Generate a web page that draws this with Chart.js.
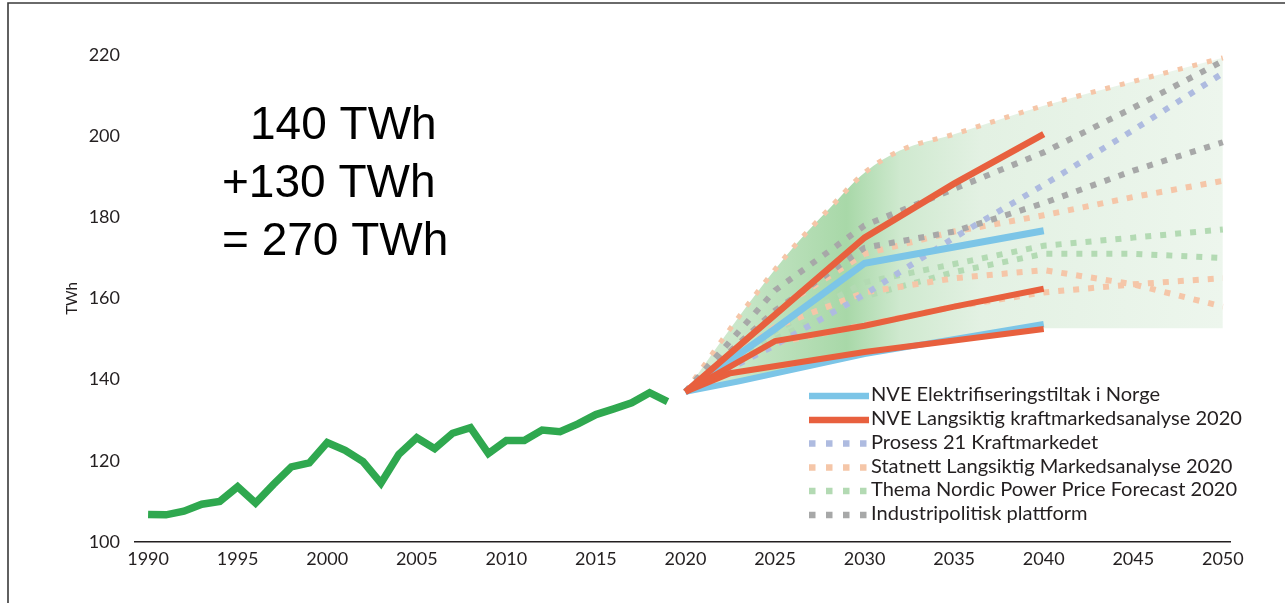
<!DOCTYPE html>
<html><head><meta charset="utf-8">
<script src="https://cdn.jsdelivr.net/npm/chart.js@4/dist/chart.umd.min.js"></script>
<style>html,body{margin:0;padding:0;background:#fff;overflow:hidden}#wrap{position:relative;width:1285px;height:603px}</style>
</head><body><div id="wrap"><canvas id="c" width="1285" height="603"></canvas></div>
<script>
// ---------- DATA ----------
const historyYears = [1990,1991,1992,1993,1994,1995,1996,1997,1998,1999,2000,2001,2002,2003,2004,2005,2006,2007,2008,2009,2010,2011,2012,2013,2014,2015,2016,2017,2018,2019];
const historyValues = [106.8,106.7,107.6,109.3,110,113.6,109.6,114.2,118.5,119.5,124.5,122.6,119.8,114.5,121.6,125.7,123,126.8,128.2,121.8,125,125,127.6,127.2,129.1,131.4,132.8,134.3,136.8,134.6];

const seriesNames = ["NVE Elektrifiseringstiltak i Norge","NVE Langsiktig kraftmarkedsanalyse 2020","Prosess 21 Kraftmarkedet","Statnett Langsiktig Markedsanalyse 2020","Thema Nordic Power Price Forecast 2020","Industripolitisk plattform"];

// NVE Elektrifiseringstiltak (blue)
const nveElHighYears = [2020,2025,2030,2040];
const nveElHighValues = [137,152.5,168.7,176.7];
const nveElLowYears = [2020,2023,2030,2040];
const nveElLowValues = [137,139.6,146.3,153.7];
// NVE Langsiktig (red)
const nveLaHighYears = [2020,2025,2030,2035,2040];
const nveLaHighValues = [137,156,175,188.3,200.5];
const nveLaMidYears = [2020,2025,2030,2035,2040];
const nveLaMidValues = [137,149.5,153.3,158,162.4];
const nveLaLowYears = [2020,2022.5,2030,2040];
const nveLaLowValues = [137,141.6,146.8,152.5];
// Prosess 21
const prosessYears = [2020,2025,2030,2035,2040,2045,2050];
const prosessValues = [137,148.5,161,175,188,201.5,215.5];
// Statnett
const statnettTopYears = [2020,2022,2024,2026,2028,2030,2032,2035,2040,2045,2050];
const statnettTopValues = [137,149.5,161.5,172.5,182,191,196.5,200.5,207.5,213.5,219.3];
const statnettAYears = [2020,2025,2030,2035,2040,2045,2050];
const statnettAValues = [137,157,171,176.5,180.5,185,189];
const statnettBYears = [2020,2025,2030,2035,2040,2045,2050];
const statnettBValues = [137,153,161.5,165,167,163.5,158];
const statnettCYears = [2020,2025,2030,2035,2040,2045,2050];
const statnettCValues = [137,149,153.5,158,161.5,163.5,165];
// Thema
const themaAYears = [2020,2025,2030,2035,2040,2045,2050];
const themaAValues = [137,152,164,168.5,173,175,177];
const themaBYears = [2020,2025,2030,2035,2040,2045,2050];
const themaBValues = [137,150,160.5,166.5,171,171,170];
// Industripolitisk plattform
const industriHighYears = [2020,2025,2030,2035,2040,2045,2050];
const industriHighValues = [137,162,178,187,196,207,218.5];
const industriLowYears = [2020,2025,2030,2035,2040,2045,2050];
const industriLowValues = [137,157,172.5,176.5,183.5,191.5,198.5];
// Lower edge of the shaded range
const rangeLowYears = [2020,2023,2030,2040,2050];
const rangeLowValues = [137,139.6,146.3,152.7,152.7];

const xTickYears = [1990,1995,2000,2005,2010,2015,2020,2025,2030,2035,2040,2045,2050];
const yTicks = [100,120,140,160,180,200,220];
const annotationLines = ["140 TWh","+130 TWh","= 270 TWh"];

// ---------- STYLE ----------
const C = {
  hist:'#2fa84f', blue:'#7cc5e7', red:'#e8603e', prosess:'#aebbe0',
  statnett:'#f5c6a8', thema:'#b3dab3', industri:'#a7a8a8'
};
const FONT = 'Lato';
const DOT = [6,9];
const pts = (xs, ys) => xs.map((x,i)=>({x, y: ys[i]}));
const solid = (label, xs, ys, color, w) => ({label, data: pts(xs,ys), borderColor: color, borderWidth: w, pointRadius: 0, fill: false, tension: 0});
const dotted = (label, xs, ys, color) => ({label, data: pts(xs,ys), borderColor: color, borderWidth: 6, borderDash: DOT, borderCapStyle: 'butt', pointRadius: 0, fill: false, tension: 0});

const datasets = [
  solid('Historikk', historyYears, historyValues, C.hist, 7.5),
  solid(seriesNames[1], nveLaHighYears, nveLaHighValues, C.red, 6.5),
  solid(seriesNames[1], nveLaMidYears, nveLaMidValues, C.red, 6),
  solid(seriesNames[1], nveLaLowYears, nveLaLowValues, C.red, 6),
  solid(seriesNames[0], nveElHighYears, nveElHighValues, C.blue, 7),
  solid(seriesNames[0], nveElLowYears, nveElLowValues, C.blue, 6),
  dotted(seriesNames[5], industriHighYears, industriHighValues, C.industri),
  dotted(seriesNames[5], industriLowYears, industriLowValues, C.industri),
  dotted(seriesNames[2], prosessYears, prosessValues, C.prosess),
  dotted(seriesNames[3], statnettAYears, statnettAValues, C.statnett),
  dotted(seriesNames[3], statnettBYears, statnettBValues, C.statnett),
  dotted(seriesNames[3], statnettCYears, statnettCValues, C.statnett),
  dotted(seriesNames[4], themaAYears, themaAValues, C.thema),
  dotted(seriesNames[4], themaBYears, themaBValues, C.thema),
  Object.assign(dotted(seriesNames[3], statnettTopYears, statnettTopValues, C.statnett), {
    borderWidth: 5, borderDash: [5,10], cubicInterpolationMode: 'monotone', fill: '+1',
    backgroundColor: (ctx) => {
      const chart = ctx.chart; const {chartArea, scales} = chart;
      if (!chartArea) return 'rgba(0,0,0,0)';
      const x0 = scales.x.getPixelForValue(2020), x1 = scales.x.getPixelForValue(2050);
      const g = chart.ctx.createLinearGradient(x0, 0, x1, 0);
      g.addColorStop(0.00, '#dcefdc');
      g.addColorStop(0.15, '#bfe2bf');
      g.addColorStop(0.30, '#a8d8a8');
      g.addColorStop(0.40, '#cfe9cf');
      g.addColorStop(0.55, '#e3f1e3');
      g.addColorStop(1.00, '#edf6ed');
      return g;
    }
  }),
  {label: 'range-low', data: pts(rangeLowYears, rangeLowValues), borderWidth: 0, borderColor: 'rgba(0,0,0,0)', pointRadius: 0, fill: false, tension: 0}
];

const legendItems = [
  {name: seriesNames[0], color: C.blue, dash: []},
  {name: seriesNames[1], color: C.red, dash: []},
  {name: seriesNames[2], color: C.prosess, dash: [6.5,10.5]},
  {name: seriesNames[3], color: C.statnett, dash: [6.5,10.5]},
  {name: seriesNames[4], color: C.thema, dash: [6.5,10.5]},
  {name: seriesNames[5], color: C.industri, dash: [6.5,10.5]}
];

const overlay = {
  id: 'overlay',
  beforeDraw(chart) {
    const ctx = chart.ctx; ctx.save();
    ctx.fillStyle = '#fff'; ctx.fillRect(0,0,chart.width,chart.height);
    ctx.restore();
  },
  afterDraw(chart) {
    const ctx = chart.ctx;
    ctx.save();
    // frame
    ctx.strokeStyle = '#3a3a3a'; ctx.lineWidth = 1.6;
    ctx.beginPath(); ctx.moveTo(8, 603); ctx.lineTo(8, 3); ctx.lineTo(1285, 3); ctx.stroke();
    // annotation
    ctx.fillStyle = '#000'; ctx.font = '46px "Liberation Sans", Arial, sans-serif'; ctx.textBaseline = 'alphabetic'; ctx.textAlign = 'left';
    ctx.fillText(annotationLines[0], 250, 139);
    ctx.fillText(annotationLines[1], 222, 197);
    ctx.fillText(annotationLines[2], 222, 255);
    // legend
    ctx.font = '100px ' + FONT;
    const w = ctx.measureText(seriesNames[1]).width;
    const fs = 100 * 371 / w;
    const rows = [396, 420, 443.5, 467.5, 491, 515];
    legendItems.forEach((it, i) => {
      ctx.setLineDash(it.dash); ctx.lineCap = 'butt';
      ctx.strokeStyle = it.color; ctx.lineWidth = 6.5;
      ctx.beginPath(); ctx.moveTo(809, rows[i]); ctx.lineTo(869, rows[i]); ctx.stroke();
      ctx.setLineDash([]);
      ctx.fillStyle = '#231f20'; ctx.font = fs.toFixed(2) + 'px ' + FONT; ctx.textBaseline = 'middle';
      ctx.fillText(it.name, 871, rows[i] - 1);
    });
    ctx.restore();
  }
};

new Chart(document.getElementById('c'), {
  type: 'line',
  data: { datasets },
  plugins: [overlay],
  options: {
    responsive: false, animation: false, devicePixelRatio: 1,
    layout: { padding: { top: 55, right: 55, left: 0, bottom: 0 } },
    plugins: { legend: { display: false }, tooltip: { enabled: false } },
    elements: { line: { borderJoinStyle: 'miter' } },
    scales: {
      x: {
        type: 'linear', min: 1989.27, max: 2050.4,
        grid: { display: false, drawTicks: false },
        border: { display: true, color: '#231f20', width: 1.5 },
        afterBuildTicks: (s) => { s.ticks = xTickYears.map(v => ({ value: v })); },
        afterFit: (s) => { s.height = 61; },
        ticks: { padding: 6, color: '#231f20', font: { family: FONT, size: 18 }, maxRotation: 0, autoSkip: false, callback: (v) => String(v) }
      },
      y: {
        min: 100, max: 220,
        grid: { display: false, drawTicks: false },
        border: { display: false },
        afterBuildTicks: (s) => { s.ticks = yTicks.map(v => ({ value: v })); },
        afterFit: (s) => { s.width = 135; },
        ticks: { padding: 15, color: '#231f20', font: { family: FONT, size: 18 }, callback: (v) => String(v) },
        title: { display: true, text: 'TWh', color: '#231f20', font: { family: FONT, size: 15 }, padding: { top: 63, bottom: 0 } }
      }
    }
  }
});
</script></body></html>
